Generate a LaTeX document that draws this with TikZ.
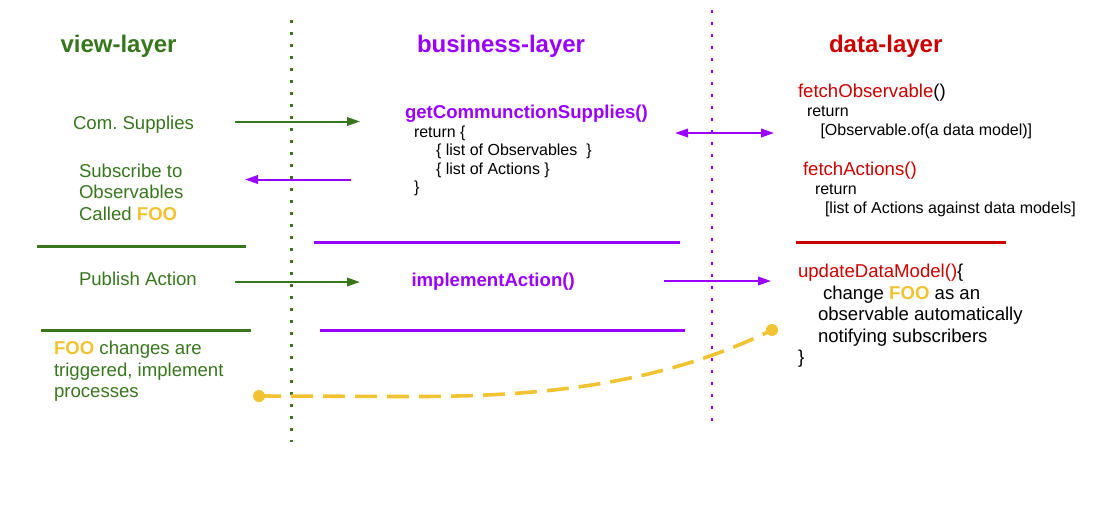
\documentclass[tikz,border=0pt]{standalone}
\usepackage{fontspec}
\setmainfont{Liberation Sans}
\usetikzlibrary{arrows.meta}
\frenchspacing
\definecolor{vgreen}{HTML}{38761D}
\definecolor{bpurple}{HTML}{9900FF}
\definecolor{dred}{HTML}{CC0000}
\definecolor{fooyellow}{HTML}{F1C232}
\newcommand\hdrfont{\fontsize{24pt}{28pt}\selectfont\bfseries}
\newcommand\bodyfont{\fontsize{18.6pt}{22pt}\selectfont}
\newcommand\codefont{\fontsize{16pt}{19pt}\selectfont}
\newcommand\foo{\textcolor{fooyellow}{\bfseries FOO}}
\begin{document}
\begin{tikzpicture}[x=1pt,y=-1pt,
  txt/.style={anchor=base west,inner sep=0pt,outer sep=0pt},
  hdr/.style={txt,font=\hdrfont},
  body/.style={txt,font=\bodyfont},
  code/.style={txt,font=\codefont},
  sep/.style={line width=3pt},
  vdots/.style={line width=2.8pt,dash pattern=on 2.8pt off 9.2pt},
  garrow/.style={draw=vgreen,line width=2pt,-{Triangle[length=13pt,width=8.5pt]}},
  parrow/.style={draw=bpurple,line width=2pt,-{Triangle[length=13pt,width=8.5pt]}},
  pdarrow/.style={draw=bpurple,line width=2pt,{Triangle[length=13pt,width=8.5pt]}-{Triangle[length=13pt,width=8.5pt]}},
  foodot/.style={circle,fill=fooyellow,inner sep=0pt,minimum size=12pt},
]
\useasboundingbox (0,0) rectangle (1099,525);

% layer boundaries
\coordinate (gtop) at (291.5,20);
\coordinate (gbot) at (291.5,442);
\coordinate (ptop) at (712,10);
\coordinate (pbot) at (712,421);
\draw[vdots,draw=vgreen] (gtop) -- (gbot);
\draw[vdots,draw=bpurple] (ptop) -- (pbot);

% headers
\node[hdr,text=vgreen] (hview) at (60.5,52) {view-layer};
\node[hdr,text=bpurple] (hbus) at (417,52) {business-layer};
\node[hdr,text=dred] (hdata) at (829,52) {data-layer};

% view layer texts
\node[body,text=vgreen] (comsup) at (73,129.5) {Com. Supplies};
\node[body,text=vgreen] (sub1) at (79,177) {Subscribe to};
\node[body,text=vgreen] (sub2) at (79,198.5) {Observables};
\node[body,text=vgreen] (sub3) at (79,220) {Called \foo};
\node[body,text=vgreen] (pub) at (79,285.5) {Publish Action};
\node[body,text=vgreen] (ch1) at (54,354) {\foo{} changes are};
\node[body,text=vgreen] (ch2) at (54,376) {triggered, implement};
\node[body,text=vgreen] (ch3) at (54,397.5) {processes};

% business layer texts
\node[body,text=bpurple,font=\bodyfont\bfseries] (getcs) at (405,118) {getCommunctionSupplies()};
\node[code] (ret1) at (414,137) {return \{};
\node[code] (lobs) at (436,155.5) {\{ list of Observables\ \ \}};
\node[code] (lact) at (436,174) {\{ list of Actions \}};
\node[code] (rclose) at (414,192.5) {\}};
\node[body,text=bpurple,font=\bodyfont\bfseries] (impl) at (411.5,286) {implementAction()};

% data layer texts
\node[body] (fobs) at (798,97) {\textcolor{dred}{fetchObservable}()};
\node[code] (ret2) at (807,116.5) {return};
\node[code] (obsof) at (820.5,135.5) {[Observable.of(a data model)]};
\node[body,text=dred] (fact) at (803,175) {fetchActions()};
\node[code] (ret3) at (815,194.5) {return};
\node[code] (actlist) at (825,213.5) {[list of Actions against data models]};
\node[body] (upd) at (798,277) {\textcolor{dred}{updateDataModel()}\{};
\node[body] (upd1) at (823,299) {change \foo{} as an};
\node[body] (upd2) at (818,320.5) {observable automatically};
\node[body] (upd3) at (818,342) {notifying subscribers};
\node[body] (upd4) at (798,363) {\}};

% separators
\coordinate (gs1a) at (37,246.5); \coordinate (gs1b) at (246,246.5);
\coordinate (ps1a) at (314,242); \coordinate (ps1b) at (680,242);
\coordinate (rs1a) at (796,242); \coordinate (rs1b) at (1006,242);
\coordinate (gs2a) at (41,330); \coordinate (gs2b) at (251,330);
\coordinate (ps2a) at (320,330); \coordinate (ps2b) at (685,330);
\draw[sep,vgreen] (gs1a) -- (gs1b);
\draw[sep,bpurple] (ps1a) -- (ps1b);
\draw[sep,dred] (rs1a) -- (rs1b);
\draw[sep,vgreen] (gs2a) -- (gs2b);
\draw[sep,bpurple] (ps2a) -- (ps2b);

% arrows
\coordinate (a1s) at (235,121.5); \coordinate (a1e) at (360,121.5);
\coordinate (a2s) at (351,179.5); \coordinate (a2e) at (245,179.5);
\coordinate (a3s) at (675,133); \coordinate (a3e) at (774,133);
\coordinate (a4s) at (235,282); \coordinate (a4e) at (360,282);
\coordinate (a5s) at (664,281); \coordinate (a5e) at (771,281);
\draw[garrow] (a1s) -- (a1e);
\draw[parrow] (a2s) -- (a2e);
\draw[pdarrow] (a3s) -- (a3e);
\draw[garrow] (a4s) -- (a4e);
\draw[parrow] (a5s) -- (a5e);

% FOO notification curve
\node[foodot] (dotl) at (259,396) {};
\node[foodot] (dotr) at (772,330) {};
\coordinate (cmid) at (400,396.5);
\draw[fooyellow,line width=3.6pt,dash pattern=on 22pt off 10pt]
  (dotl.center) -- (cmid) .. controls (520,397) and (650,390) .. (dotr.center);
\end{tikzpicture}
\end{document}
